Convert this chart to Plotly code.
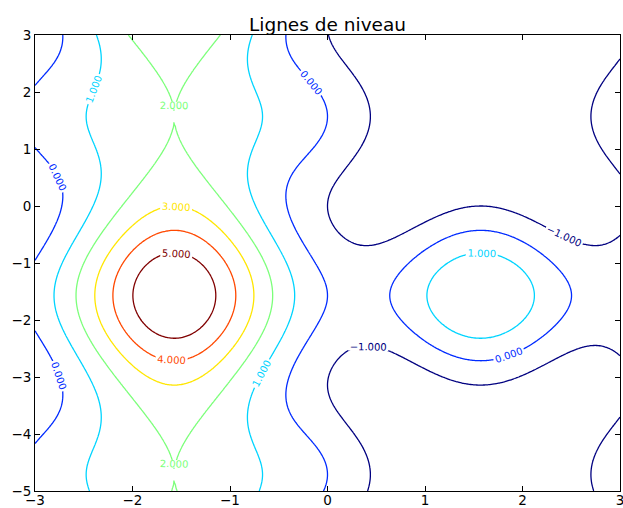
import numpy as np
import plotly.graph_objects as go

# --- data -------------------------------------------------------------
# sampled grid of the function whose level lines are drawn
x_values = np.linspace(-3.0, 3.0, 401)
y_values = np.linspace(-5.0, 3.0, 401)


def surface(x, y):
    s = np.sin(x)
    t = np.sin(y)
    return (1 - s) ** 2 + (t - s ** 2) ** 2 - 2


X, Y = np.meshgrid(x_values, y_values)
z_values = surface(X, Y)

levels = [-1, 0, 1, 2, 3, 4, 5]
level_colors = ["#000080", "#002bff", "#00d4ff", "#7cff7a",
                "#ffe600", "#ff4800", "#800000"]
x_ticks = [-3, -2, -1, 0, 1, 2, 3]
y_ticks = [-5, -4, -3, -2, -1, 0, 1, 2, 3]
title_text = "Lignes de niveau"

# --- figure -----------------------------------------------------------
n = len(levels)
colorscale = [[i / (n - 1), c] for i, c in enumerate(level_colors)]

fig = go.Figure(
    go.Contour(
        x=x_values,
        y=y_values,
        z=z_values,
        colorscale=colorscale,
        autocontour=False,
        contours=dict(
            start=levels[0],
            end=levels[-1],
            size=levels[1] - levels[0],
            coloring="lines",
            showlabels=True,
            labelformat=".3f",
            labelfont=dict(family="DejaVu Sans", size=10),
        ),
        line=dict(width=1.3),
        showscale=False,
        hoverinfo="skip",
    )
)

axis_common = dict(
    showgrid=False,
    zeroline=False,
    showline=True,
    linecolor="black",
    linewidth=1,
    mirror="ticks",
    ticks="inside",
    ticklen=5,
    tickwidth=1,
    tickcolor="black",
    automargin=False,
    ticklabeloverflow="allow",
    tickfont=dict(family="DejaVu Sans", size=13.5, color="black"),
)

fig.update_layout(
    width=623,
    height=508,
    margin=dict(l=35, r=3, t=35, b=17),
    paper_bgcolor="white",
    plot_bgcolor="white",
    showlegend=False,
    title=dict(
        text=title_text,
        x=0.5,
        xref="paper",
        xanchor="center",
        y=1,
        yref="paper",
        yanchor="bottom",
        pad=dict(b=4),
        automargin=False,
        font=dict(family="DejaVu Sans", size=18.5, color="black"),
    ),
    xaxis=dict(range=[-3, 3], tickvals=x_ticks, ticklabelstandoff=-3,
               **axis_common),
    yaxis=dict(range=[-5, 3], tickvals=y_ticks, **axis_common),
)

fig.write_html(
    "out.html",
    config={"displayModeBar": False, "staticPlot": True},
    post_script="document.body.style.margin='0';document.body.style.overflow='hidden';",
)
